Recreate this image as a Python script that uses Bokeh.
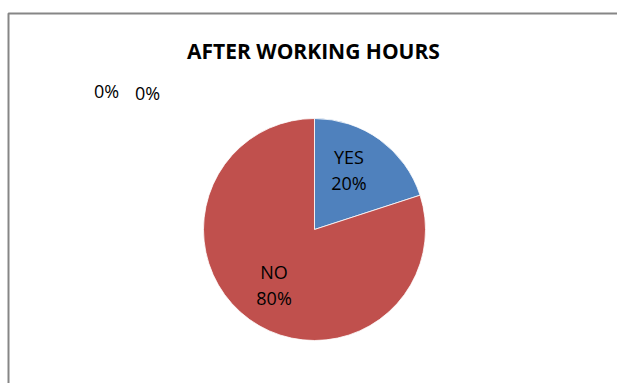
import math
from bokeh.plotting import figure
from bokeh.models import Range1d, ColumnDataSource
from bokeh.core.properties import value
from bokeh.embed import file_html
from bokeh.resources import INLINE

# ---- data ----
title = "AFTER WORKING HOURS"
categories = ["YES", "NO"]
shares = [20, 80]
colors = ["#4F81BD", "#C0504D"]
zero_labels = ["0%", "0%"]

W, H = 617, 383
p = figure(width=W, height=H, output_backend="svg", toolbar_location=None,
           x_range=Range1d(0, W), y_range=Range1d(0, H), min_border=0)
p.axis.visible = False
p.grid.visible = False
p.outline_line_color = None
p.background_fill_color = "white"
p.border_fill_color = "white"

# chart frame (left and top edges visible)
p.line([8, 8, W], [-5, H - 13, H - 13], line_color="#868686", line_width=2)

# title
p.text([313], [H - 50], text=[title], text_font=value("Open Sans"),
       text_font_style="bold", text_font_size="21px", text_align="center",
       text_baseline="middle", text_color="black")

# pie geometry
cx, cy, r = 314, H - 229, 111
total = sum(shares)
starts, ends, lx, ly, ltxt = [], [], [], [], []
ang = 90.0
for cat, v in zip(categories, shares):
    sweep = 360.0 * v / total
    end = ang
    start = ang - sweep
    starts.append(math.radians(start))
    ends.append(math.radians(end))
    mid = math.radians((start + end) / 2)
    d = 0.62 * r
    lx.append(cx + d * math.cos(mid))
    ly.append(cy + d * math.sin(mid))
    ltxt.append((cat, f"{round(100 * v / total)}%"))
    ang = start

src = ColumnDataSource(dict(start=starts, end=ends, color=colors))
p.wedge(x=cx, y=cy, radius=r, start_angle="start", end_angle="end",
        fill_color="color", line_color="white", line_width=0.8, source=src)

# slice labels
for (cat, pct), x, y in zip(ltxt, lx, ly):
    if cat == "YES":
        x -= 6; y += 4
    p.text([x, x], [y + 13, y - 13], text=[cat, pct], text_font=value("Open Sans"),
           text_font_size="18px", text_align="center", text_baseline="middle",
           text_color="black")

# zero-value labels
p.text([106, 147], [H - 90, H - 92], text=zero_labels, text_font=value("Open Sans"),
       text_font_size="18px", text_align="center", text_baseline="middle",
       text_color="black")

open("out.html", "w").write(file_html(p, INLINE))
